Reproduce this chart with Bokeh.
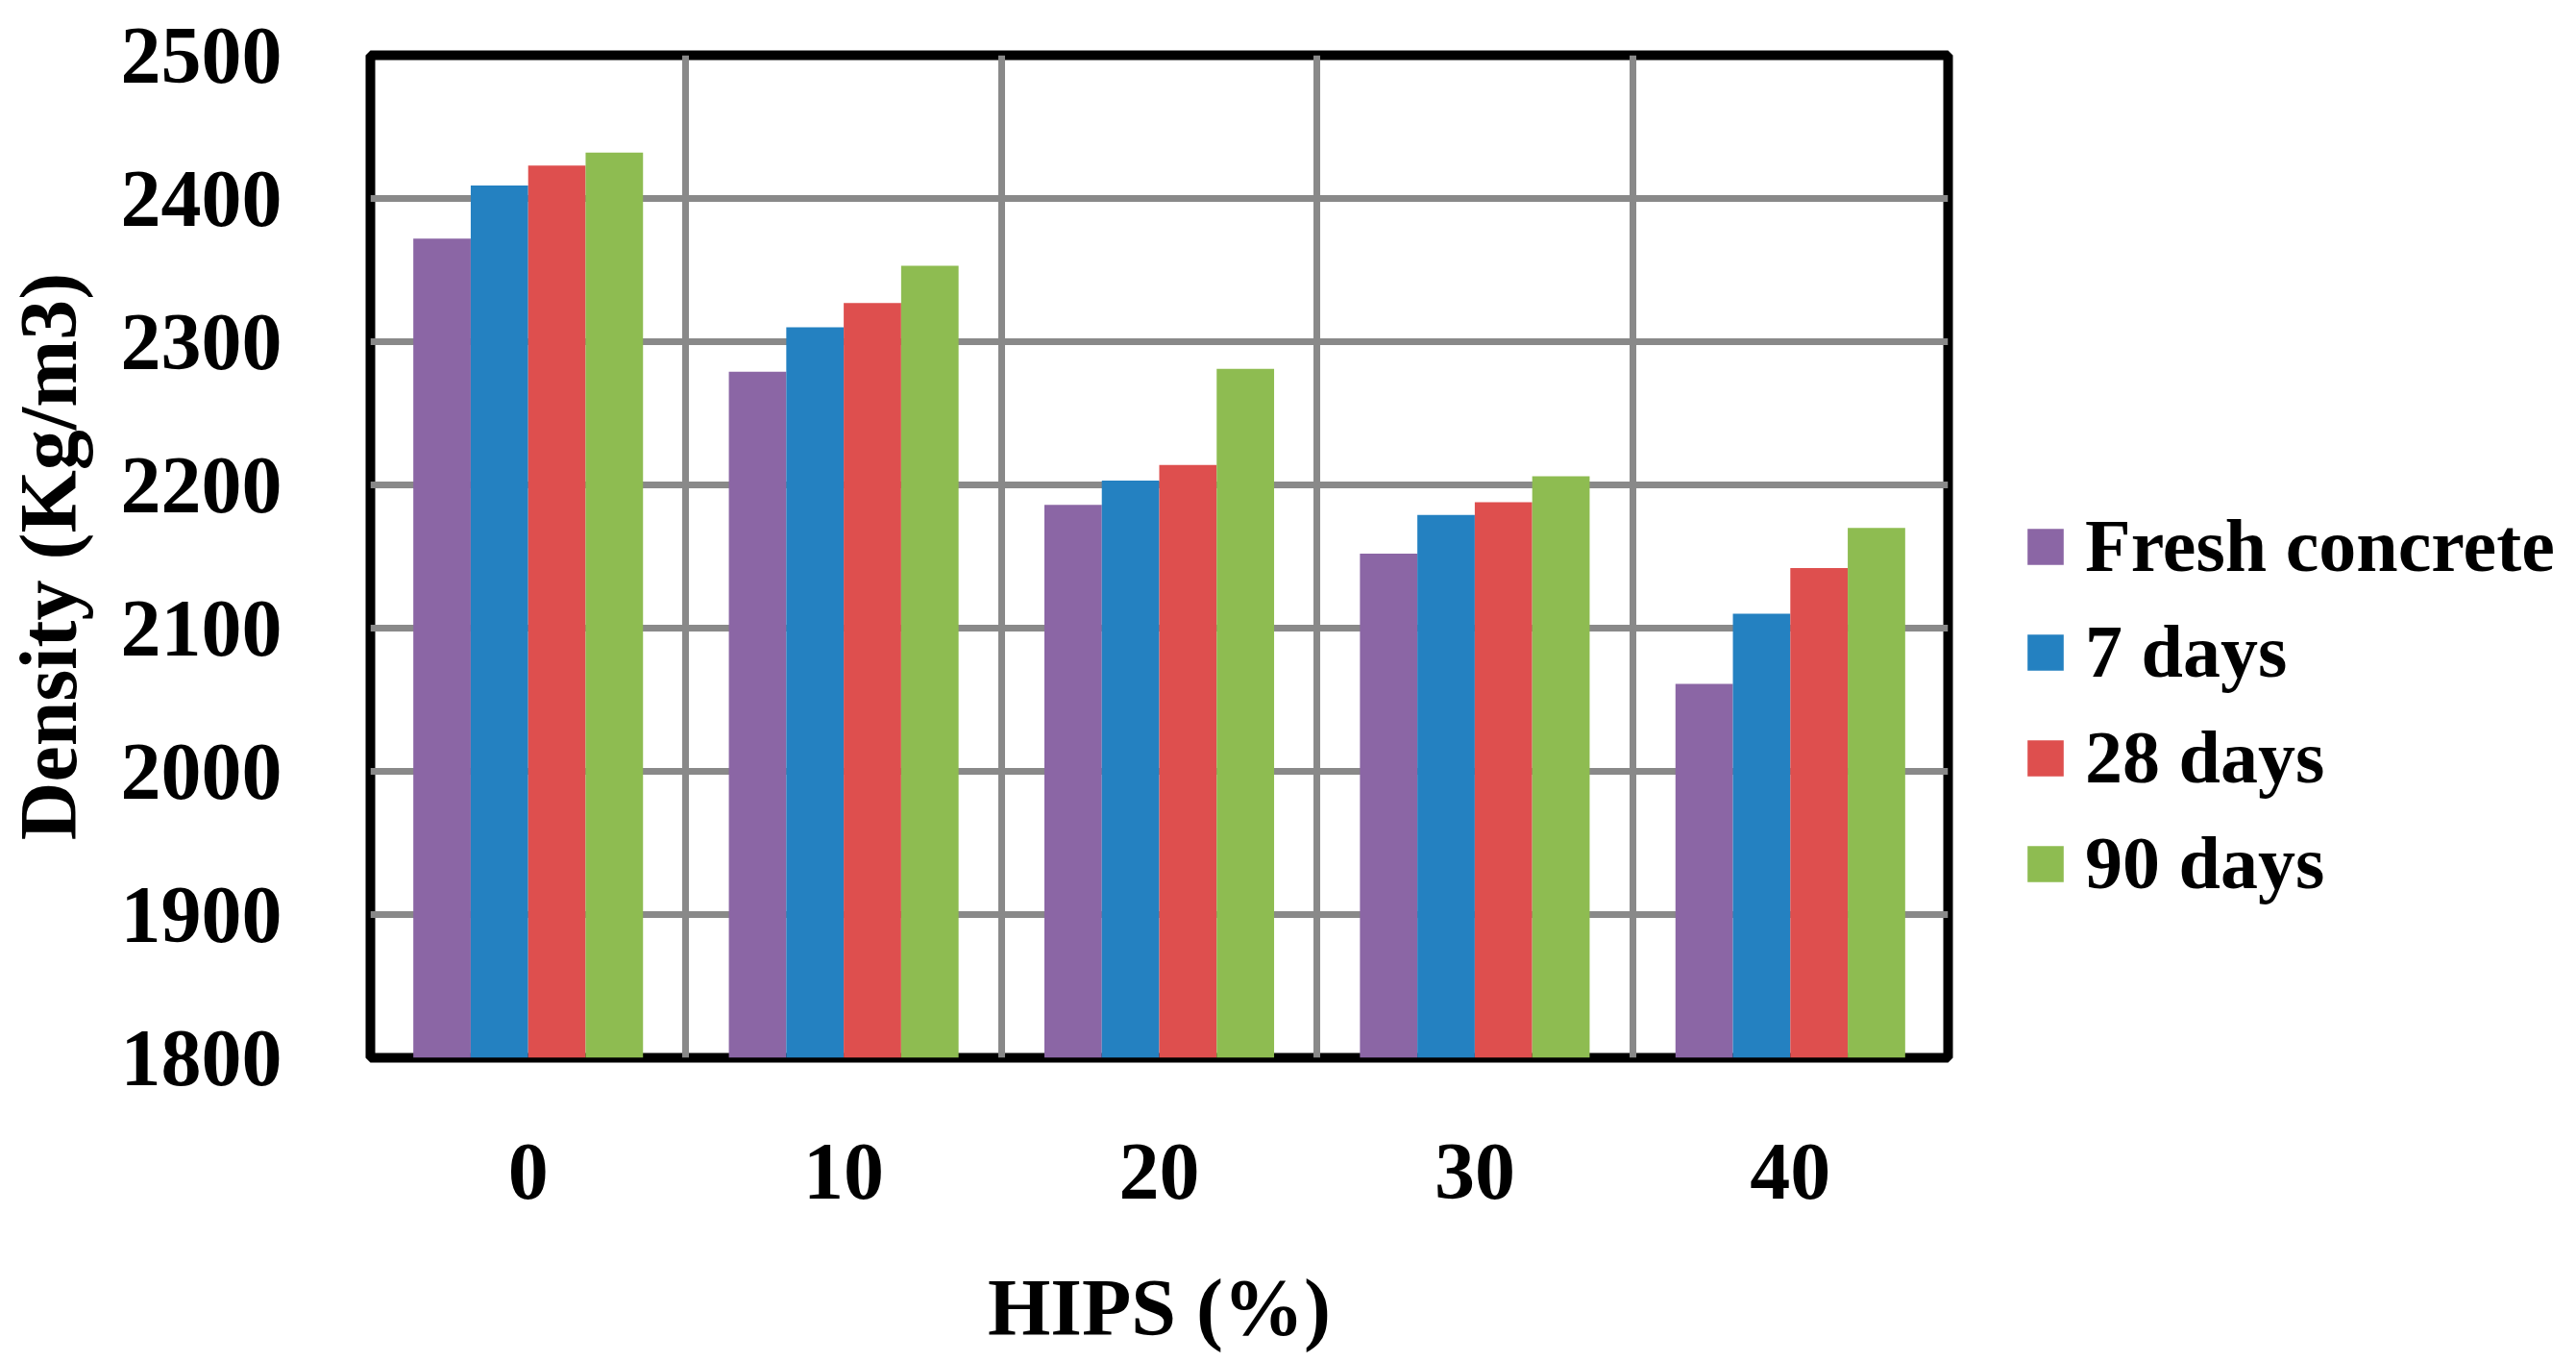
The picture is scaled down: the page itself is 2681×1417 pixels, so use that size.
from bokeh.plotting import figure
from bokeh.models import (ColumnDataSource, Range1d, FixedTicker, Legend, LegendItem)
from bokeh.transform import dodge
from bokeh.embed import file_html
from bokeh.resources import INLINE

# ---- data ----
categories = ["0", "10", "20", "30", "40"]
fresh_concrete = [2372, 2279, 2186, 2152, 2061]
days_7 = [2409, 2310, 2203, 2179, 2110]
days_28 = [2423, 2327, 2214, 2188, 2142]
days_90 = [2432, 2353, 2281, 2206, 2170]
series_names = ["Fresh concrete", "7 days", "28 days", "90 days"]
y_ticks = [1800, 1900, 2000, 2100, 2200, 2300, 2400, 2500]

colors = ["#8B66A5", "#2481C1", "#DE4F4E", "#8EBC51"]
FONT = "Liberation Serif"

centers = [i + 0.5 for i in range(len(categories))]
source = ColumnDataSource(data=dict(
    x=centers, fresh=fresh_concrete, d7=days_7, d28=days_28, d90=days_90))

p = figure(width=2665, height=1400, output_backend="svg", toolbar_location=None,
           x_range=Range1d(0, len(categories)), y_range=Range1d(y_ticks[0], y_ticks[-1]),
           min_border_left=378, min_border_top=57, min_border_right=645,
           min_border_bottom=300)
p.frame_width = 1642
p.frame_height = 1043

p.background_fill_color = "white"
p.border_fill_color = "white"
p.outline_line_color = "black"
p.outline_line_width = 10

offsets = [-0.273, -0.091, 0.091, 0.273]
fields = ["fresh", "d7", "d28", "d90"]
renderers = []
for f, off, c in zip(fields, offsets, colors):
    r = p.vbar(x=dodge("x", off, range=p.x_range), top=f, bottom=y_ticks[0],
               width=0.182, source=source, fill_color=c, line_color=None)
    renderers.append(r)

# grids
p.ygrid.ticker = FixedTicker(ticks=y_ticks)
p.ygrid.grid_line_color = "#898989"
p.ygrid.grid_line_width = 7
p.xgrid.ticker = FixedTicker(ticks=list(range(1, len(categories))))
p.xgrid.grid_line_color = "#898989"
p.xgrid.grid_line_width = 7
p.grid.level = "underlay"

# axes
for ax in (p.xaxis[0], p.yaxis[0]):
    ax.axis_line_color = None
    ax.major_tick_line_color = None
    ax.minor_tick_line_color = None
    ax.major_label_text_font = FONT
    ax.major_label_text_font_style = "bold"
    ax.major_label_text_font_size = "84px"
    ax.major_label_text_color = "black"
    ax.axis_label_text_font = FONT
    ax.axis_label_text_font_style = "bold"
    ax.axis_label_text_font_size = "84px"
    ax.axis_label_text_color = "black"

p.xaxis.ticker = FixedTicker(ticks=centers)
p.xaxis.major_label_overrides = {c: lab for c, lab in zip(centers, categories)}
p.xaxis.major_label_standoff = 84
p.xaxis.axis_label = "HIPS (%)"
p.xaxis.axis_label_standoff = 64

p.yaxis.ticker = FixedTicker(ticks=y_ticks)
p.yaxis.major_label_standoff = 86
p.yaxis.axis_label = "Density (Kg/m3)"
p.yaxis.axis_label_standoff = 26

legend = Legend(items=[LegendItem(label=n, renderers=[r]) for n, r in zip(series_names, renderers)])
legend.label_text_font = FONT
legend.label_text_font_style = "bold"
legend.label_text_font_size = "78px"
legend.label_text_color = "black"
legend.glyph_width = 47
legend.glyph_height = 47
legend.label_standoff = 18
legend.spacing = 20
legend.padding = 0
legend.margin = 0
legend.border_line_color = None
legend.background_fill_color = None
legend.location = (78, 157)
p.add_layout(legend, "right")

open("out.html", "w").write(file_html(p, INLINE))
